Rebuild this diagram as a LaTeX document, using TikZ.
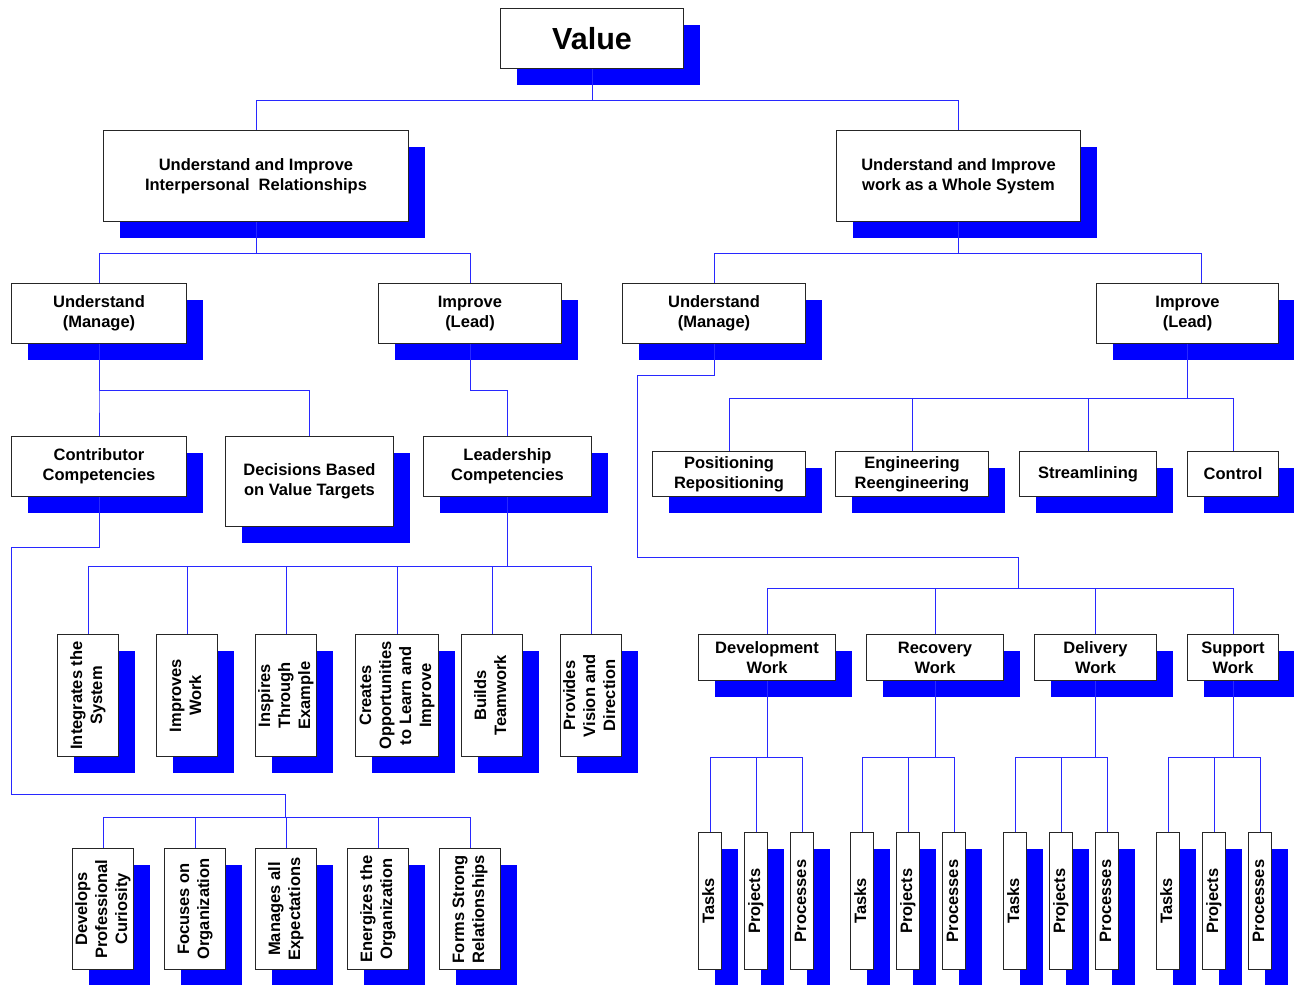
\documentclass[tikz,border=0pt]{standalone}
\usepackage{fontspec}
\usepackage{graphicx}
\setmainfont{Liberation Sans}
\usetikzlibrary{shadows}

\definecolor{linkblue}{RGB}{40,40,255}

\newcommand\vlab[1]{\rotatebox{90}{\begin{tabular}{@{}c@{}}#1\end{tabular}}}

\tikzset{
  box/.style={draw=black!85, line width=1pt, fill=white, inner sep=0pt,
    align=center, anchor=north west,
    font=\fontsize{16.5}{20}\selectfont\bfseries,
    general shadow={fill=blue, shadow xshift=16pt, shadow yshift=-16pt}},
  conn/.style={draw=linkblue, line width=0.8pt},
}

\begin{document}
\begin{tikzpicture}[x=1pt, y=-1pt]
\useasboundingbox (0,0) rectangle (1294,985);

% top level
\node[box, minimum width=183pt, minimum height=60pt] (value) at (500,8)
  {\fontsize{30.5}{34}\selectfont Value};
\node[box, minimum width=305pt, minimum height=91pt] (ip) at (103,130)
  {Understand and Improve\\Interpersonal\ \ Relationships};
\node[box, minimum width=244pt, minimum height=91pt] (ws) at (836,130)
  {Understand and Improve\\work as a Whole System};

% second level
\node[box, minimum width=175pt, minimum height=60pt] (uml) at (11,283) {Understand\\(Manage)};
\node[box, minimum width=183pt, minimum height=60pt] (ill) at (378,283) {Improve\\(Lead)};
\node[box, minimum width=183pt, minimum height=60pt] (umr) at (622,283) {Understand\\(Manage)};
\node[box, minimum width=182pt, minimum height=60pt] (ilr) at (1096,283) {Improve\\(Lead)};

% third level, left
\node[box, minimum width=175pt, minimum height=60pt] (cc) at (11,436) {Contributor\\Competencies};
\node[box, minimum width=168pt, minimum height=90pt] (db) at (225,436) {Decisions Based\\on Value Targets};
\node[box, minimum width=168pt, minimum height=60pt] (lc) at (423,436) {Leadership\\Competencies};

% third level, right
\node[box, minimum width=153pt, minimum height=45pt] (pos) at (652,451) {Positioning\\Repositioning};
\node[box, minimum width=153pt, minimum height=45pt] (eng) at (835,451) {Engineering\\Reengineering};
\node[box, minimum width=137pt, minimum height=45pt] (stl) at (1019,451) {Streamlining};
\node[box, minimum width=91pt, minimum height=45pt] (ctl) at (1187,451) {Control};

% kinds of work
\node[box, minimum width=137pt, minimum height=46pt] (devw) at (698,634) {Development\\Work};
\node[box, minimum width=137pt, minimum height=46pt] (recw) at (866,634) {Recovery\\Work};
\node[box, minimum width=122pt, minimum height=46pt] (delw) at (1034,634) {Delivery\\Work};
\node[box, minimum width=91pt, minimum height=46pt] (supw) at (1187,634) {Support\\Work};

% leadership competencies
\node[box, minimum width=61pt, minimum height=122pt] (la) at (57,634) {\vlab{Integrates the\\System}};
\node[box, minimum width=61pt, minimum height=122pt] (lb) at (156,634) {\vlab{Improves\\Work}};
\node[box, minimum width=61pt, minimum height=122pt] (lcc) at (255,634) {\vlab{Inspires\\Through\\Example}};
\node[box, minimum width=83pt, minimum height=122pt] (ld) at (355,634) {\vlab{Creates\\Opportunities\\to Learn and\\Improve}};
\node[box, minimum width=61pt, minimum height=122pt] (le) at (461,634) {\vlab{Builds\\Teamwork}};
\node[box, minimum width=61pt, minimum height=122pt] (lf) at (560,634) {\vlab{Provides\\Vision and\\Direction}};

% contributor competencies
\node[box, minimum width=61pt, minimum height=121pt] (ca) at (72,848) {\vlab{Develops\\Professional\\Curiosity}};
\node[box, minimum width=61pt, minimum height=121pt] (cb) at (164,848) {\vlab{Focuses on\\Organization}};
\node[box, minimum width=61pt, minimum height=121pt] (cx) at (255,848) {\vlab{Manages all\\Expectations}};
\node[box, minimum width=61pt, minimum height=121pt] (cd) at (347,848) {\vlab{Energizes the\\Organization}};
\node[box, minimum width=61pt, minimum height=121pt] (ce) at (439,848) {\vlab{Forms Strong\\Relationships}};

% tasks, projects, processes under each kind of work
\foreach \g/\x in {1/698, 2/850, 3/1003, 4/1156} {
  \node[box, minimum width=23pt, minimum height=137pt] (t\g) at (\x,832) {\vlab{Tasks}};
  \node[box, minimum width=23pt, minimum height=137pt] (p\g) at (\x+46,832) {\vlab{Projects}};
  \node[box, minimum width=23pt, minimum height=137pt] (q\g) at (\x+92,832) {\vlab{Processes}};
}

% bend points of the long connectors
\coordinate (cjog) at (11,794);
\coordinate (cbus) at (285,817);
\coordinate (ujog) at (637,557);
\coordinate (wbus) at (1018,588);

% connectors
\draw[conn] (value.south) -- ++(0,31) -| (ip.north);
\draw[conn] (value.south) -- ++(0,31) -| (ws.north);

\draw[conn] (ip.south) -- ++(0,31) -| (uml.north);
\draw[conn] (ip.south) -- ++(0,31) -| (ill.north);
\draw[conn] (ws.south) -- ++(0,31) -| (umr.north);
\draw[conn] (ws.south) -- ++(0,31) -| ([xshift=14pt]ilr.north);

\draw[conn] (uml.south) -- ++(0,46) -| (cc.north);
\draw[conn] (uml.south) -- ++(0,46) -| (db.north);
\draw[conn] (ill.south) -- ++(0,46) -| (lc.north);

\foreach \n in {la,lb,lcc,ld,le,lf}
  \draw[conn] (lc.south) -- ++(0,69) -| (\n.north);

\draw[conn] (cc.south) -- ++(0,50) -| (cjog) -| (cbus);
\foreach \n in {ca,cb,cx,cd,ce}
  \draw[conn] (cbus) -| (\n.north);

\foreach \n in {pos,eng,stl,ctl}
  \draw[conn] (ilr.south) -- ++(0,54) -| (\n.north);

\draw[conn] (umr.south) -- ++(0,31) -| (ujog) -| (wbus);
\foreach \n in {devw,recw,delw,supw}
  \draw[conn] (wbus) -| (\n.north);

\foreach \w/\g in {devw/1, recw/2, delw/3, supw/4} {
  \draw[conn] (\w.south) -- ++(0,76) -| (t\g.north);
  \draw[conn] (\w.south) -- ++(0,76) -| (p\g.north);
  \draw[conn] (\w.south) -- ++(0,76) -| (q\g.north);
}
\end{tikzpicture}
\end{document}
